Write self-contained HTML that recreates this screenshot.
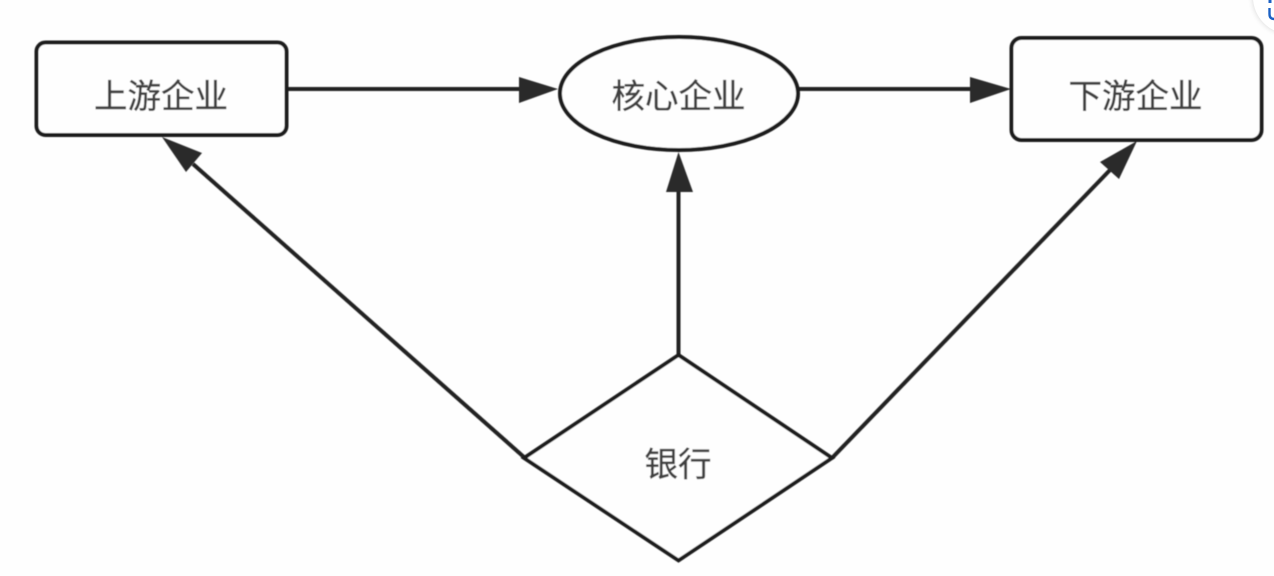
<!DOCTYPE html>
<html lang="zh">
<head>
<meta charset="utf-8">
<title>银行 供应链</title>
<style>
html,body{margin:0;padding:0;width:1274px;height:576px;overflow:hidden;background:#fefefe}
svg{display:block;position:absolute;left:0;top:0}
text{font-family:"Liberation Sans","Noto Sans CJK SC",sans-serif;font-size:33.5px;fill:#404040;stroke:#404040;stroke-width:.35;text-anchor:middle}
</style>
</head>
<body>
<svg width="1274" height="576" viewBox="0 0 1274 576" xmlns="http://www.w3.org/2000/svg">
<defs>
<filter id="b" x="-5%" y="-5%" width="110%" height="110%"><feGaussianBlur stdDeviation="0.6"/></filter>
<filter id="s" x="-30%" y="-30%" width="160%" height="160%"><feGaussianBlur stdDeviation="3"/></filter>
</defs>
<rect width="1274" height="576" fill="#fefefe"/>
<g filter="url(#b)">
<!-- connectors -->
<g stroke="#222" stroke-width="4" fill="none">
<line x1="288" y1="89" x2="525" y2="89"/>
<line x1="799" y1="89" x2="975" y2="89"/>
<line x1="678.5" y1="355" x2="678.5" y2="188"/>
<line x1="525" y1="458" x2="193" y2="164"/>
<line x1="832" y1="458" x2="1110" y2="170"/>
</g>
<!-- nodes -->
<g stroke="#1e1e1e" fill="#fefefe">
<rect x="36.5" y="42.5" width="250" height="92.5" rx="9" ry="9" stroke-width="4"/>
<rect x="1011.5" y="38" width="250" height="102" rx="10" ry="10" stroke-width="4"/>
<ellipse cx="679" cy="93.5" rx="119" ry="56.5" stroke-width="4"/>
<polygon points="678.5,355 832,458 678.5,560.5 524,458" stroke-width="3.8" stroke-linejoin="miter"/>
</g>
<!-- arrowheads -->
<g fill="#2b2b2b">
<polygon points="558,89 519,77 519,103"/>
<polygon points="1011,89 970,77 970,103"/>
<polygon points="678.5,152 666,192 693,192"/>
<polygon points="162,137 202,153 186,172"/>
<polygon points="1137,141 1100,162 1119,179"/>
</g>
<!-- labels -->
<text x="161" y="108">上游企业</text>
<text x="678.5" y="108">核心企业</text>
<text x="1135.5" y="108">下游企业</text>
<text x="678" y="476">银行</text>
</g>
<!-- corner widget -->
<circle cx="1290" cy="-3" r="37" fill="#000" opacity=".16" filter="url(#s)"/>
<circle cx="1290" cy="-3" r="37" fill="#fff"/>
<path d="M1269.5 8v6q0 5 4.5 5" stroke="#1c62c4" stroke-width="2.4" fill="none"/>
<rect x="1268.5" y="0" width="3" height="3" fill="#1c62c4"/>
</svg>
</body>
</html>
